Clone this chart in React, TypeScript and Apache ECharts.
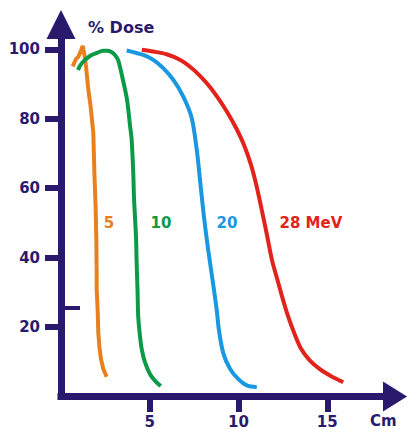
import React, { useEffect, useRef } from "react";
import * as echarts from "echarts";

const NAVY = "#2a1a6e";
const xTicks = [5, 10, 15];
const yTicks = [20, 40, 60, 80, 100];

const energies = ["5", "10", "20", "28 MeV"];
const colors = ["#e8801e", "#0a9a48", "#1898e0", "#e2231b"];
const labelPos: [number, number][] = [
  [2.7, 50],
  [5.63, 50],
  [9.35, 50],
  [14.08, 50],
];

const depth5 = [0.66, 0.85, 0.97, 1.1, 1.22, 1.32, 1.41, 1.52, 1.67, 1.82, 1.88, 1.95, 1.99, 2.01, 2.01, 2.07, 2.1, 2.16, 2.25, 2.38, 2.57];
const dose5 = [95.1, 97.3, 97.8, 99.3, 101.0, 98.4, 95.1, 89.3, 83.5, 76.0, 64.5, 54.7, 45.3, 35.8, 30.9, 24.3, 18.5, 14.5, 10.8, 8.0, 5.7];

const depth10 = [0.96, 1.07, 1.24, 1.63, 2.03, 2.37, 2.59, 2.82, 3.04, 3.21, 3.32, 3.49, 3.72, 3.89, 3.98, 4.07, 4.11, 4.17, 4.23, 4.26, 4.31, 4.35, 4.45, 4.55, 4.73, 5.01, 5.3, 5.62];
const dose10 = [94.1, 95.3, 96.4, 98.1, 99.0, 99.6, 99.6, 99.3, 98.4, 97.0, 95.0, 91.2, 85.5, 78.0, 74.0, 64.5, 57.6, 51.6, 45.3, 38.6, 30.9, 23.1, 17.4, 13.6, 9.9, 6.5, 4.5, 3.0];

const depth20 = [3.7, 4.07, 4.64, 5.2, 5.76, 6.33, 6.89, 7.36, 7.65, 7.85, 8.06, 8.3, 8.54, 8.77, 8.9, 9.14, 9.52, 9.99, 10.46, 11.03];
const dose20 = [99.7, 99.2, 98.4, 97.0, 94.6, 91.2, 86.4, 80.3, 71.0, 61.5, 51.5, 42.0, 33.5, 25.0, 19.0, 12.5, 8.0, 5.0, 3.2, 2.7];

const depth28 = [4.55, 5.2, 5.95, 6.7, 7.27, 7.83, 8.39, 8.9, 9.4, 9.9, 10.3, 10.7, 11.0, 11.3, 11.6, 11.9, 12.2, 12.5, 12.8, 13.1, 13.5, 14.0, 14.6, 15.2, 15.9];
const dose28 = [99.9, 99.4, 98.6, 97.0, 95.0, 92.4, 89.2, 85.6, 81.6, 77.0, 72.6, 66.8, 61.0, 54.0, 46.6, 39.0, 33.5, 28.0, 23.0, 18.8, 14.0, 10.5, 7.8, 5.9, 4.1];

const depths = [depth5, depth10, depth20, depth28];
const doses = [dose5, dose10, dose20, dose28];
const smoothness = [false, 0.3, 0.3, 0.3];

const FONT = "DejaVu Sans";

export default function App() {
  const ref = useRef<HTMLDivElement>(null);
  useEffect(() => {
    if (!ref.current) return;
    const chart = echarts.init(ref.current, null, { renderer: "svg" });
    const labelStyle = { color: NAVY, fontFamily: FONT, fontWeight: "bold" as const, fontSize: 15 };
    chart.setOption({
      animation: false,
      backgroundColor: "#ffffff",
      grid: { left: 61, right: 24, top: 39, bottom: 31.5 },
      title: [
        { text: "% Dose", left: 88, top: 19.5, padding: 0, textStyle: { color: NAVY, fontFamily: FONT, fontWeight: "bold", fontSize: 16 } },
        { text: "Cm", left: 370, top: 413, padding: 0, textStyle: { color: NAVY, fontFamily: FONT, fontWeight: "bold", fontSize: 15 } },
      ],
      xAxis: {
        type: "value",
        min: 0,
        max: 18.14,
        splitLine: { show: false },
        axisLine: {
          show: true,
          onZero: false,
          symbol: ["none", "triangle"],
          symbolSize: [30, 24],
          symbolOffset: [0, 12],
          lineStyle: { color: NAVY, width: 7, cap: "square" },
        },
        axisTick: { show: true, customValues: xTicks, length: 15.5, lineStyle: { color: NAVY, width: 6 } },
        axisLabel: { show: true, customValues: xTicks, margin: 17.5, ...labelStyle },
      },
      yAxis: {
        type: "value",
        min: 0,
        max: 103,
        splitLine: { show: false },
        axisLine: {
          show: true,
          onZero: false,
          symbol: ["none", "triangle"],
          symbolSize: [29, 29],
          symbolOffset: [0, 14.5],
          lineStyle: { color: NAVY, width: 7, cap: "square" },
        },
        axisTick: { show: true, customValues: yTicks, length: 16, lineStyle: { color: NAVY, width: 6 } },
        axisLabel: { show: true, customValues: yTicks, margin: 21, ...labelStyle },
      },
      graphic: [
        { type: "rect", shape: { x: 65, y: 306, width: 15, height: 4 }, style: { fill: NAVY } },
      ],
      series: energies.map((name, i) => ({
        type: "line",
        name,
        data: depths[i].map((d, j) => [d, doses[i][j]]),
        showSymbol: false,
        symbol: "none",
        smooth: smoothness[i],
        lineStyle: { color: colors[i], width: 4 },
        itemStyle: { color: colors[i] },
        emphasis: { disabled: true },
        silent: true,
        markPoint: {
          symbol: "circle",
          symbolSize: 0,
          silent: true,
          data: [{ coord: labelPos[i], value: name }],
          label: {
            show: true,
            position: "inside",
            formatter: name,
            color: colors[i],
            fontFamily: FONT,
            fontWeight: "bold",
            fontSize: 15,
          },
        },
      })),
    });
    return () => chart.dispose();
  }, []);
  return <div ref={ref} style={{ position: "fixed", left: 0, top: 0, width: 407, height: 429 }} />;
}
